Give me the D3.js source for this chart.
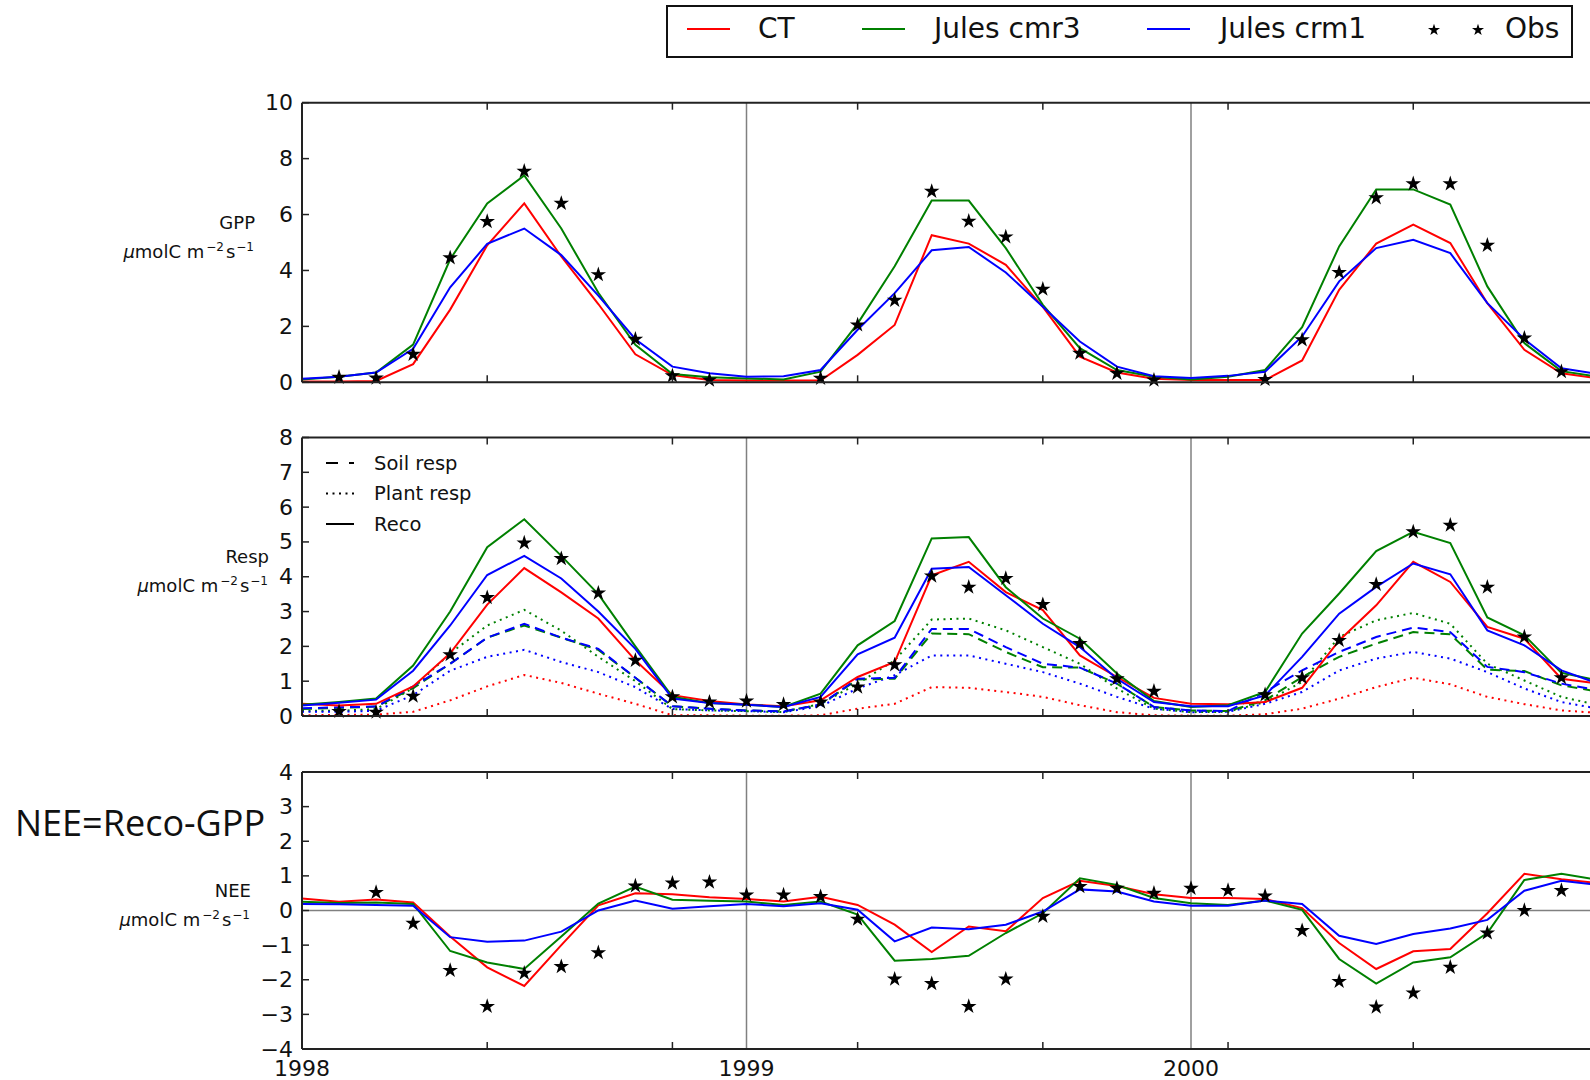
<!DOCTYPE html>
<html>
<head>
<meta charset="utf-8">
<script src="https://cdn.jsdelivr.net/npm/d3@7"></script>
<style>
  body { margin: 0; background: #fff; }
  svg { display: block; }
  text { font-family: "DejaVu Sans", sans-serif; fill: #111; }
</style>
</head>
<body>
<svg width="1590" height="1080"></svg>
<script>
// monthly values, Jan 1998 onward (index = month number)
const months = d3.range(36);

const ctGPP   = [0.03,0.03,0.05,0.65,2.6,4.9,6.4,4.5,2.8,1.0,0.26,0.08,0.06,0.06,0.06,0.98,2.05,5.26,4.96,4.2,2.7,0.92,0.35,0.13,0.08,0.08,0.08,0.78,3.31,4.96,5.64,4.98,2.83,1.16,0.32,0.14];
const cmr3GPP = [0.1,0.2,0.35,1.35,4.4,6.4,7.4,5.5,3.2,1.34,0.3,0.18,0.14,0.1,0.38,2.1,4.15,6.5,6.5,4.8,2.77,1.22,0.44,0.2,0.1,0.2,0.44,1.97,4.86,6.9,6.9,6.36,3.43,1.4,0.4,0.2];
const crm1GPP = [0.13,0.2,0.35,1.2,3.4,4.95,5.5,4.55,3.1,1.54,0.56,0.32,0.2,0.22,0.44,1.88,3.19,4.72,4.84,3.93,2.7,1.46,0.56,0.22,0.15,0.23,0.38,1.64,3.61,4.8,5.1,4.62,2.83,1.54,0.5,0.29];
const obsGPP  = [null,0.18,0.15,1.0,4.45,5.75,7.55,6.4,3.85,1.54,0.23,0.08,null,null,0.14,2.05,2.93,6.83,5.76,5.2,3.33,1.04,0.32,0.08,null,null,0.1,1.52,3.93,6.6,7.1,7.1,4.9,1.58,0.38,null];

const ctReco   = [0.35,0.3,0.35,0.85,1.8,3.2,4.25,3.55,2.8,1.6,0.6,0.43,0.33,0.28,0.45,1.12,1.55,4.04,4.43,3.56,3.04,1.74,1.12,0.52,0.35,0.34,0.4,0.81,2.17,3.18,4.43,3.85,2.56,2.22,1.07,0.93];
const cmr3Reco = [0.32,0.4,0.5,1.45,3.0,4.85,5.65,4.6,3.5,2.0,0.55,0.37,0.32,0.26,0.64,2.03,2.73,5.1,5.14,3.7,2.8,2.22,1.22,0.43,0.26,0.31,0.69,2.37,3.52,4.74,5.29,4.97,2.83,2.32,1.24,1.02];
const crm1Reco = [0.3,0.38,0.47,1.3,2.6,4.05,4.6,3.95,3.0,1.93,0.5,0.37,0.32,0.26,0.55,1.77,2.25,4.23,4.28,3.47,2.65,1.98,1.07,0.4,0.28,0.28,0.59,1.7,2.94,3.71,4.38,4.07,2.46,2.03,1.31,0.93];
const cmr3Soil = [0.2,0.23,0.27,0.8,1.5,2.25,2.6,2.25,1.9,1.1,0.28,0.21,0.16,0.13,0.33,1.05,1.07,2.37,2.35,1.84,1.4,1.39,0.93,0.26,0.16,0.14,0.45,1.12,1.7,2.08,2.41,2.35,1.33,1.29,0.88,0.7];
const crm1Soil = [0.22,0.25,0.27,0.85,1.5,2.25,2.65,2.25,1.93,1.1,0.28,0.21,0.16,0.13,0.33,1.07,1.1,2.5,2.5,1.98,1.5,1.39,0.93,0.26,0.16,0.14,0.69,1.31,1.84,2.27,2.54,2.41,1.41,1.26,0.93,0.74];
const ctPlant   = [0.02,0.03,0.04,0.12,0.45,0.85,1.18,0.95,0.64,0.35,0.02,0.02,0.01,0.01,0.02,0.21,0.35,0.83,0.81,0.69,0.55,0.31,0.11,0.02,0.01,0.01,0.05,0.21,0.5,0.83,1.1,0.91,0.55,0.34,0.16,0.09];
const cmr3Plant = [0.15,0.15,0.2,0.8,1.8,2.6,3.05,2.45,1.7,1.0,0.2,0.16,0.14,0.11,0.35,0.93,1.6,2.77,2.8,2.46,1.98,1.5,0.79,0.21,0.11,0.12,0.4,0.98,2.27,2.75,2.96,2.65,1.5,1.02,0.55,0.31];
const crm1Plant = [0.12,0.12,0.15,0.6,1.3,1.7,1.9,1.55,1.26,0.83,0.2,0.16,0.14,0.11,0.28,0.79,1.17,1.74,1.74,1.5,1.26,0.93,0.55,0.21,0.11,0.12,0.35,0.69,1.31,1.65,1.84,1.65,1.26,0.79,0.4,0.21];
const obsResp   = [null,0.13,0.11,0.57,1.76,3.4,4.97,4.52,3.53,1.6,0.55,0.4,0.43,0.33,0.4,0.83,1.47,4.02,3.7,3.95,3.2,2.08,1.07,0.71,null,null,0.61,1.1,2.17,3.78,5.29,5.48,3.7,2.27,1.1,null];

const ctNEE   = [0.35,0.25,0.32,0.23,-0.75,-1.64,-2.18,-1.0,0.15,0.5,0.47,0.38,0.33,0.26,0.4,0.16,-0.41,-1.2,-0.46,-0.6,0.36,0.86,0.71,0.47,0.36,0.36,0.33,0.07,-0.94,-1.69,-1.18,-1.11,-0.08,1.06,0.9,0.79];
const cmr3NEE = [0.25,0.22,0.23,0.19,-1.17,-1.5,-1.69,-0.75,0.2,0.69,0.31,0.28,0.26,0.16,0.26,-0.12,-1.45,-1.4,-1.31,-0.65,-0.08,0.93,0.74,0.36,0.21,0.16,0.29,0.02,-1.4,-2.11,-1.5,-1.35,-0.65,0.88,1.06,0.88];
const crm1NEE = [0.19,0.18,0.16,0.14,-0.77,-0.9,-0.87,-0.61,0.0,0.29,0.05,0.12,0.19,0.12,0.21,0.02,-0.89,-0.49,-0.54,-0.41,-0.03,0.61,0.55,0.26,0.14,0.14,0.29,0.19,-0.73,-0.97,-0.68,-0.52,-0.27,0.57,0.86,0.74];
const obsNEE  = [null,null,0.52,-0.37,-1.73,-2.77,-1.81,-1.62,-1.22,0.71,0.79,0.82,0.45,0.45,0.4,-0.25,-1.98,-2.11,-2.77,-1.98,-0.17,0.69,0.64,0.5,0.64,0.58,0.42,-0.58,-2.05,-2.79,-2.38,-1.64,-0.65,0.0,0.58,null];

const yearTicks = [1998, 1999, 2000];
const minorTickMonths = [5, 10, 15, 20, 25, 30, 35];
const seriesNames = ["CT", "Jules cmr3", "Jules crm1"];
const respLegend = ["Soil resp", "Plant resp", "Reco"];

const red = "#ff0000", green = "#008000", blue = "#0000ff";
const dashed = "10,6", dotted = "2,4.5";

const svg = d3.select("svg");

const x = d3.scaleLinear().domain([1998, 2001]).range([302, 302 + 3 * 444.5]);
const xm = m => x(1998 + m / 12);

function drawPanel(cfg) {
    const y = d3.scaleLinear().domain(cfg.domain).range(cfg.range);
    const g = svg.append("g");
    const [x0, x1] = x.range();
    const yTicks = d3.range(cfg.domain[0], cfg.domain[1] + 0.001, cfg.step);

    // grey year lines
    g.selectAll(".yr").data(yearTicks.slice(1)).enter().append("line")
        .attr("x1", d => x(d)).attr("x2", d => x(d))
        .attr("y1", cfg.range[0]).attr("y2", cfg.range[1])
        .attr("stroke", "#808080").attr("stroke-width", 1.5);

    if (cfg.zeroLine) {
        g.append("line").attr("x1", x0).attr("x2", x1)
            .attr("y1", y(0)).attr("y2", y(0))
            .attr("stroke", "#808080").attr("stroke-width", 1.5);
    }

    const line = d3.line().x((d, i) => xm(months[i])).y(d => y(d));
    cfg.series.forEach(s => {
        g.append("path").datum(s.values)
            .attr("d", line)
            .attr("fill", "none")
            .attr("stroke", s.color)
            .attr("stroke-width", 2)
            .attr("stroke-dasharray", s.dash || null);
    });

    const star = d3.symbol(d3.symbolStar, 75);
    g.selectAll(".obs").data(months.filter(m => cfg.obs[m] != null)).enter()
        .append("path")
        .attr("d", star)
        .attr("transform", m => `translate(${xm(m)},${y(cfg.obs[m])})`)
        .attr("fill", "#000");

    // spines
    g.append("line").attr("x1", x0).attr("x2", x1).attr("y1", cfg.range[0]).attr("y2", cfg.range[0])
        .attr("stroke", "#222").attr("stroke-width", 2);
    g.append("line").attr("x1", x0).attr("x2", x1).attr("y1", cfg.range[1]).attr("y2", cfg.range[1])
        .attr("stroke", "#222").attr("stroke-width", 2);
    g.append("line").attr("x1", x0).attr("x2", x0).attr("y1", cfg.range[0]).attr("y2", cfg.range[1])
        .attr("stroke", "#222").attr("stroke-width", 2);

    // inward ticks every 5 months
    minorTickMonths.forEach(m => {
        g.append("line").attr("x1", xm(m)).attr("x2", xm(m))
            .attr("y1", cfg.range[0]).attr("y2", cfg.range[0] - 7)
            .attr("stroke", "#222").attr("stroke-width", 1.5);
        g.append("line").attr("x1", xm(m)).attr("x2", xm(m))
            .attr("y1", cfg.range[1]).attr("y2", cfg.range[1] + 7)
            .attr("stroke", "#222").attr("stroke-width", 1.5);
    });

    // inward y ticks
    g.selectAll(".ytk").data(yTicks).enter().append("line")
        .attr("x1", x0).attr("x2", x0 + 7)
        .attr("y1", d => y(d)).attr("y2", d => y(d))
        .attr("stroke", "#222").attr("stroke-width", 1.5);

    // y tick labels
    g.selectAll(".yt").data(yTicks).enter()
        .append("text")
        .attr("x", 293).attr("y", d => y(d))
        .attr("text-anchor", "end").attr("dominant-baseline", "central")
        .attr("font-size", 22)
        .text(d => d < 0 ? "\u2212" + Math.abs(d) : d);

    // y label
    g.append("text").attr("x", cfg.labelX).attr("y", cfg.labelY)
        .attr("text-anchor", "end").attr("font-size", 18).text(cfg.label);
    const u = g.append("text").attr("x", cfg.labelX - 1).attr("y", cfg.labelY + 29)
        .attr("text-anchor", "end").attr("font-size", 18);
    u.append("tspan").attr("font-style", "italic").text("\u03bc");
    u.append("tspan").text("molC m");
    u.append("tspan").attr("dy", -7).attr("dx", 2).attr("font-size", 12).text("\u22122");
    u.append("tspan").attr("dy", 7).attr("dx", 2).text("s");
    u.append("tspan").attr("dy", -7).attr("dx", 1).attr("font-size", 12).text("\u22121");
    return { g, y };
}

drawPanel({
    domain: [0, 10], range: [382.3, 102.7], step: 2,
    label: "GPP", labelX: 255, labelY: 229,
    series: [
        { values: ctGPP, color: red },
        { values: cmr3GPP, color: green },
        { values: crm1GPP, color: blue }
    ],
    obs: obsGPP
});

const resp = drawPanel({
    domain: [0, 8], range: [716, 437.5], step: 1,
    label: "Resp", labelX: 269, labelY: 563,
    series: [
        { values: ctPlant, color: red, dash: dotted },
        { values: cmr3Plant, color: green, dash: dotted },
        { values: crm1Plant, color: blue, dash: dotted },
        { values: cmr3Soil, color: green, dash: dashed },
        { values: crm1Soil, color: blue, dash: dashed },
        { values: ctReco, color: red },
        { values: cmr3Reco, color: green },
        { values: crm1Reco, color: blue }
    ],
    obs: obsResp
});

// line-style legend inside the Resp panel
const respDash = ["12,11", "2,4.5", null];
respLegend.forEach((name, i) => {
    const yy = 463 + i * 30.5;
    resp.g.append("line").attr("x1", 326).attr("x2", 354).attr("y1", yy).attr("y2", yy)
        .attr("stroke", "#000").attr("stroke-width", 2)
        .attr("stroke-dasharray", respDash[i]);
    resp.g.append("text").attr("x", 374).attr("y", yy)
        .attr("dominant-baseline", "central").attr("font-size", 19.5).text(name);
});

drawPanel({
    domain: [-4, 4], range: [1049, 772], step: 1,
    label: "NEE", labelX: 251, labelY: 897,
    series: [
        { values: ctNEE, color: red },
        { values: cmr3NEE, color: green },
        { values: crm1NEE, color: blue }
    ],
    obs: obsNEE,
    zeroLine: true
});

// year labels under bottom panel
svg.selectAll(".xl").data(yearTicks).enter().append("text")
    .attr("x", d => x(d)).attr("y", 1076)
    .attr("text-anchor", "middle").attr("font-size", 22)
    .text(d => d);

svg.append("text").attr("x", 15).attr("y", 836)
    .style("font-family", "'Open Sans', sans-serif")
    .attr("font-size", 36).attr("fill", "#000")
    .text("NEE=Reco-GPP");

// top legend
const lg = svg.append("g");
lg.append("rect").attr("x", 667).attr("y", 6).attr("width", 905).attr("height", 51)
    .attr("fill", "#fff").attr("stroke", "#111").attr("stroke-width", 2);
const legendItems = [
    { name: seriesNames[0], color: red, lx: 687, tx: 758 },
    { name: seriesNames[1], color: green, lx: 862, tx: 934 },
    { name: seriesNames[2], color: blue, lx: 1147, tx: 1220 }
];
legendItems.forEach(d => {
    lg.append("line").attr("x1", d.lx).attr("x2", d.lx + 43).attr("y1", 29).attr("y2", 29)
        .attr("stroke", d.color).attr("stroke-width", 2);
    lg.append("text").attr("x", d.tx).attr("y", 38).attr("font-size", 28).text(d.name);
});
const legStar = d3.symbol(d3.symbolStar, 45);
[1434, 1478].forEach(sx => {
    lg.append("path").attr("d", legStar).attr("transform", `translate(${sx},30)`).attr("fill", "#000");
});
lg.append("text").attr("x", 1505).attr("y", 38).attr("font-size", 28).text("Obs");
</script>
</body>
</html>
